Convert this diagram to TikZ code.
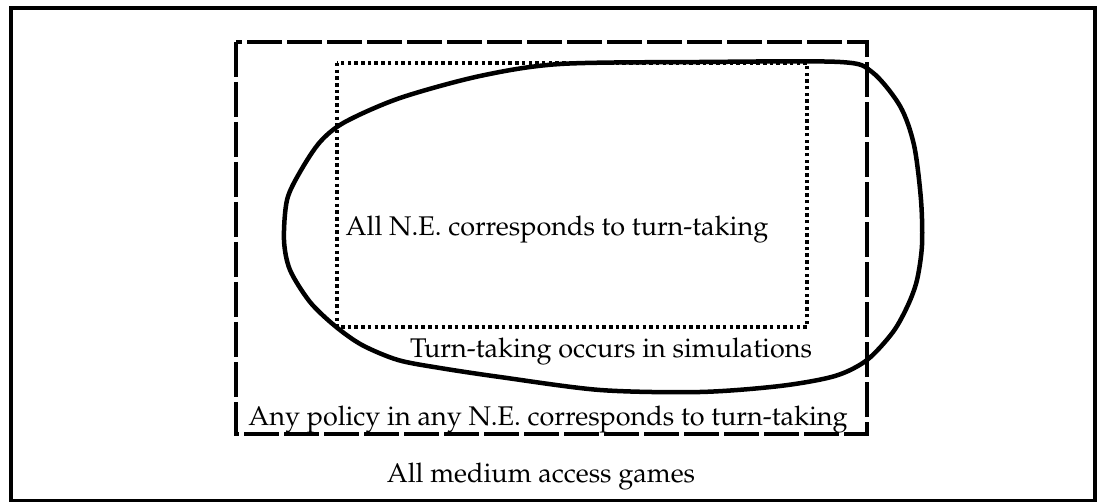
\documentclass[tikz,border=0pt]{standalone}
\usepackage[T1]{fontenc}
\usepackage{mathpazo}
\begin{document}
\begin{tikzpicture}[x=1pt,y=-1pt,
  frame/.style={line width=4pt},
  policyset/.style={line width=4.5pt,dash pattern=on 35pt off 5pt},
  neset/.style={line width=3.5pt,dash pattern=on 3.5pt off 3.2pt},
  simset/.style={line width=4.5pt,line join=round},
  lbl/.style={inner sep=0pt,anchor=base,font=\fontsize{27}{32}\selectfont}]
\useasboundingbox (0,0) rectangle (1097,502);
% outer frame: all medium access games
\draw[frame] (11,8) rectangle (1095,501);
% dashed set: any policy in any N.E. is turn-taking
\draw[policyset] (236,42) rectangle (867,434);
% dotted set: all N.E. are turn-taking
\draw[neset] (337,63) rectangle (807,327);
% closed curve: turn-taking in simulations
\draw[simset] plot[smooth cycle,tension=0.5] coordinates {
  (400,98) (480,76) (560,64) (700,62) (840,62) (872,72) (900,106)
  (914,145) (921,200) (922,245) (917,280) (908,305) (893,332)
  (867,360) (835,376) (780,386) (700,392) (600,390) (500,377)
  (440,368) (398,360) (362,345) (335,326) (310,302) (290,270)
  (284,240) (287,200) (300,172) (320,142) (345,122)};
\node[lbl] (ne) at (557,236) {All N.E. corresponds to turn-taking};
\node[lbl] (sim) at (611,357) {Turn-taking occurs in simulations};
\node[lbl] (pol) at (548,425) {Any policy in any N.E. corresponds to turn-taking};
\node[lbl] (all) at (541,482) {All medium access games};
\end{tikzpicture}
\end{document}
